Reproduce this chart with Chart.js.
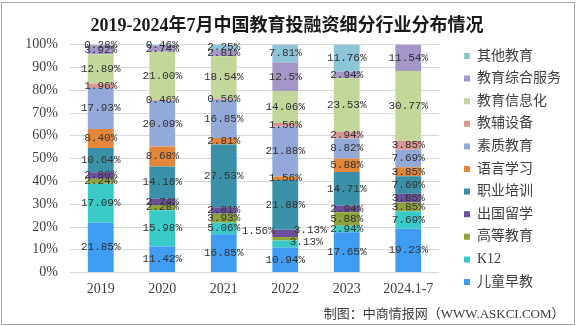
<!DOCTYPE html>
<html>
<head>
<meta charset="utf-8">
<script src="https://cdn.jsdelivr.net/npm/chart.js@4.4.1/dist/chart.umd.min.js"></script>
<style>
  body { margin: 0; background: #fff; }
  canvas { display: block; }
</style>
</head>
<body>
<canvas id="eduChart" width="576" height="326"></canvas>
<script>
// categories (x axis)
var years = ['2019', '2020', '2021', '2022', '2023', '2024.1-7'];

// shares in %, one array per segment, stacked from the bottom up
var earlyEdu     = [21.85, 11.42, 16.85, 10.94, 17.65, 19.23];
var k12          = [17.09, 15.98, 5.06, 3.13, 2.94, 7.69];
var higherEdu    = [2.24, 2.28, 3.93, 1.56, 5.88, 3.85];
var studyAbroad  = [2.80, 2.74, 2.81, 3.13, 2.94, 3.85];
var vocational   = [10.64, 14.16, 27.53, 21.88, 14.71, 7.69];
var language     = [8.40, 8.68, 2.81, 1.56, 5.88, 3.85];
var quality      = [17.93, 20.09, 16.85, 21.88, 8.82, 7.69];
var teachingAids = [1.96, 0.46, 0.56, 1.56, 2.94, 3.85];
var eduIT        = [12.89, 21.00, 18.54, 14.06, 23.53, 30.77];
var integrated   = [3.92, 2.74, 2.81, 12.5, 2.94, 11.54];
var otherEdu     = [0.28, 0.46, 2.25, 7.81, 11.76, 0];

var yTicks = [0, 10, 20, 30, 40, 50, 60, 70, 80, 90, 100];

var serif = '"Liberation Serif", "Noto Sans CJK SC", serif';
var textColor = '#404040';

function seg(label, data, color) {
    return { label: label, data: data, backgroundColor: color, borderWidth: 0 };
}

function fmt(v) {
    return (v === 12.5 ? '12.5' : v.toFixed(2)) + '%';
}

// a few labels in 2022 are nudged sideways like in the original
var labelNudge = {
    '3': { '高等教育': [-27, -8], '出国留学': [25, -3], 'K12': [21, -2] }
};

var frame = {
    id: 'frame',
    beforeDraw: function(chart) {
        var c = chart.ctx;
        c.save();
        c.fillStyle = '#fff';
        c.fillRect(0, 0, chart.width, chart.height);
        c.strokeStyle = '#a6a6a6';
        c.lineWidth = 1;
        c.strokeRect(1.5, 2.5, chart.width - 3, chart.height - 4);
        c.restore();
    }
};

var segLabels = {
    id: 'segLabels',
    afterDatasetsDraw: function(chart) {
        var c = chart.ctx;
        c.save();
        c.font = '11px "Liberation Mono", monospace';
        c.fillStyle = '#333';
        c.textAlign = 'center';
        c.textBaseline = 'middle';
        chart.data.datasets.forEach(function(ds, i) {
            chart.getDatasetMeta(i).data.forEach(function(bar, j) {
                var v = ds.data[j];
                if (!v) return;
                var x = bar.x, y = (bar.y + bar.base) / 2;
                var n = labelNudge[j] && labelNudge[j][ds.label];
                if (n) { x += n[0]; y += n[1]; }
                c.fillText(fmt(v), x, y);
            });
        });
        c.restore();
    }
};

var ctx = document.getElementById('eduChart').getContext('2d');
var myChart = new Chart(ctx, {
    type: 'bar',
    data: {
        labels: years,
        datasets: [
            seg('儿童早教', earlyEdu, '#3f9cf0'),
            seg('K12', k12, '#39c9c6'),
            seg('高等教育', higherEdu, '#8ea33a'),
            seg('出国留学', studyAbroad, '#6c4f9c'),
            seg('职业培训', vocational, '#3a91a7'),
            seg('语言学习', language, '#e2863a'),
            seg('素质教育', quality, '#93a9d8'),
            seg('教辅设备', teachingAids, '#d99694'),
            seg('教育信息化', eduIT, '#c4d79b'),
            seg('教育综合服务', integrated, '#a596c8'),
            seg('其他教育', otherEdu, '#8dc4d8')
        ]
    },
    options: {
        responsive: false,
        animation: false,
        layout: { padding: { left: 3, right: 5, top: 0, bottom: 0 } },
        datasets: { bar: { categoryPercentage: 1, barPercentage: 0.42 } },
        scales: {
            x: {
                stacked: true,
                grid: { display: false, drawTicks: false },
                border: { display: false },
                ticks: { color: textColor, padding: 8, font: { family: serif, size: 14 } }
            },
            y: {
                stacked: true,
                min: 0,
                max: 100,
                afterBuildTicks: function(s) { s.ticks = yTicks.map(function(v) { return { value: v }; }); },
                afterFit: function(s) { s.width = 67; },
                grid: { color: '#d9d9d9', drawTicks: false },
                border: { display: false },
                ticks: {
                    color: textColor,
                    padding: 12,
                    font: { family: serif, size: 14 },
                    callback: function(v) { return v + '%'; }
                }
            },
            gap: {
                type: 'linear',
                axis: 'y',
                position: 'right',
                grid: { display: false },
                border: { display: false },
                ticks: { display: false },
                afterFit: function(s) { s.width = 16.4; }
            }
        },
        plugins: {
            title: {
                display: true,
                text: '2019-2024年7月中国教育投融资细分行业分布情况',
                color: '#1a1a1a',
                font: { family: serif, size: 18, weight: 'bold' },
                padding: { top: 16, bottom: 7 }
            },
            subtitle: {
                display: true,
                position: 'bottom',
                align: 'end',
                text: '制图：中商情报网（WWW.ASKCI.COM）\u3000',
                color: textColor,
                font: { family: serif, size: 13 },
                padding: { top: 1, bottom: 4 }
            },
            legend: {
                position: 'right',
                reverse: true,
                maxWidth: 120,
                title: { display: true, text: '', font: { size: 10 }, padding: 0 },
                labels: {
                    boxWidth: 6,
                    boxHeight: 6,
                    padding: 8.6,
                    color: textColor,
                    font: { family: serif, size: 14 }
                }
            },
            tooltip: { enabled: false }
        }
    },
    plugins: [frame, segLabels]
});
</script>
</body>
</html>
